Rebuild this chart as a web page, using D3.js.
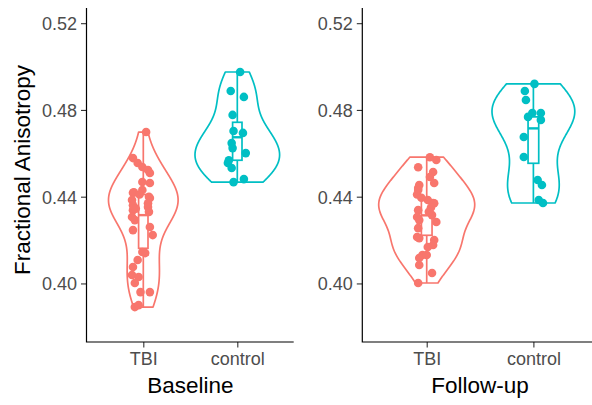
<!DOCTYPE html>
<html>
<head>
<meta charset="utf-8">
<script src="https://cdn.jsdelivr.net/npm/d3@7"></script>
<style>
  html, body { margin: 0; padding: 0; background: #fff; }
  svg { display: block; }
  text { font-family: "Liberation Sans", Arial, Helvetica, sans-serif; }
</style>
</head>
<body>
<svg id="chart" width="592" height="405"></svg>
<script>
// ---------- DATA ----------
const categories = ["TBI", "control"];
const panelTitles = ["Baseline", "Follow-up"];
const yTicks = [0.40, 0.44, 0.48, 0.52];
const yLimits = [0.38, 0.52];
const colors = ["#F8766D", "#00BFC4"];

// Baseline
const baselineTBI = [0.4698,0.4578,0.4555,0.4537,0.4523,0.4509,0.4468,0.4463,0.4431,0.4418,0.4385,0.4394,0.4352,0.4338,0.4306,0.4292,0.4246,0.4260,0.4223,0.4140,0.4145,0.4108,0.4076,0.4039,0.4030,0.4002,0.3960,0.3960,0.3891,0.3900,0.4420,0.4400,0.4360,0.4330,0.4370,0.4410,0.4345];
const baselineTBIJitter = [0.03,-0.11,-0.06,-0.01,0.05,0.07,-0.01,0.07,-0.01,-0.11,-0.12,0.07,0.05,-0.11,-0.12,-0.09,-0.11,0.07,0.10,0.02,-0.01,-0.06,-0.11,-0.12,-0.05,-0.09,-0.03,0.07,-0.09,-0.05,-0.10,0.06,-0.11,0.06,0.05,-0.04,-0.08];
const baselineControl = [0.4975,0.4887,0.4860,0.4777,0.4703,0.4694,0.4647,0.4624,0.4601,0.4568,0.4555,0.4532,0.4467,0.4481];
const baselineControlJitter = [0.03,-0.07,0.07,-0.05,-0.04,0.06,-0.06,-0.05,0.09,-0.09,-0.10,-0.06,-0.04,0.07];

// Follow-up
const followTBI = [0.4582,0.4569,0.4536,0.4514,0.4491,0.4463,0.4454,0.4431,0.4385,0.4371,0.4338,0.4306,0.4292,0.4315,0.4283,0.4255,0.4214,0.4209,0.4200,0.4177,0.4168,0.4131,0.4117,0.4131,0.4085,0.4048,0.4002,0.4410,0.4370,0.4440,0.4350,0.4395,0.4330];
const followTBIJitter = [0.03,0.09,-0.08,0.06,0.03,0.07,-0.07,-0.08,0.01,0.06,-0.08,-0.09,-0.07,0.05,0.09,-0.08,-0.09,-0.07,0.07,0.06,0.01,-0.04,-0.07,0.00,-0.07,0.05,-0.08,-0.09,0.07,-0.08,0.04,-0.05,0.02];
const followControl = [0.4920,0.4887,0.4846,0.4786,0.4786,0.4754,0.4768,0.4675,0.4583,0.4477,0.4454,0.4385,0.4371];
const followControlJitter = [0.01,-0.08,-0.07,-0.01,0.07,0.07,-0.05,-0.09,-0.09,0.04,0.08,0.05,0.09];

// Box statistics: [q1, median, q3]
const baselineTBIBox = [0.4162, 0.4315, 0.4410];
const baselineControlBox = [0.4568, 0.4674, 0.4743];
const followTBIBox = [0.4222, 0.4314, 0.4384];
const followControlBox = [0.4554, 0.4715, 0.4768];

// ---------- LAYOUT ----------
const W = 592, H = 405;
const panelTop = 8, panelBottom = 342;
const panels = [
  { title: panelTitles[0], left: 86.9, right: 293.7, showYTitle: true,
    groups: [
      { values: baselineTBI, jitter: baselineTBIJitter, box: baselineTBIBox },
      { values: baselineControl, jitter: baselineControlJitter, box: baselineControlBox }
    ] },
  { title: panelTitles[1], left: 362.7, right: 597.4, showYTitle: false,
    groups: [
      { values: followTBI, jitter: followTBIJitter, box: followTBIBox },
      { values: followControl, jitter: followControlJitter, box: followControlBox }
    ] }
];

const svg = d3.select("#chart");
svg.append("rect").attr("width", W).attr("height", H).attr("fill", "#fff");

const ySpan = yLimits[1] - yLimits[0];
const y = d3.scaleLinear()
  .domain([yLimits[0] - 0.05 * ySpan, yLimits[1] + 0.05 * ySpan])
  .range([panelBottom, panelTop]);

function bwNrd0(v) {
  const sd = d3.deviation(v);
  const iqr = d3.quantile(v, 0.75) - d3.quantile(v, 0.25);
  let lo = Math.min(sd, iqr / 1.34);
  if (!(lo > 0)) lo = sd || Math.abs(v[0]) || 1;
  return 0.9 * lo * Math.pow(v.length, -0.2);
}
function kde(v) {
  const bw = bwNrd0(v);
  const mn = d3.min(v), mx = d3.max(v);
  const n = 512;
  const out = [];
  for (let i = 0; i < n; i++) {
    const t = mn + (mx - mn) * i / (n - 1);
    let s = 0;
    for (const x of v) {
      const z = (t - x) / bw;
      s += Math.exp(-0.5 * z * z);
    }
    out.push([t, s / (v.length * bw * Math.sqrt(2 * Math.PI))]);
  }
  return out;
}

panels.forEach(p => {
  const x = d3.scaleLinear().domain([0.4, 2.6]).range([p.left, p.right]);
  const unit = x(2) - x(1);
  const g = svg.append("g");

  const dens = p.groups.map(gr => kde(gr.values));
  const maxD = d3.max(dens, d => d3.max(d, e => e[1]));

  // violins
  p.groups.forEach((gr, i) => {
    const cx = x(i + 1);
    const d = dens[i];
    const half = e => e[1] / maxD * 0.45 * unit;
    const pts = d.map(e => [cx + half(e), y(e[0])])
      .concat(d.slice().reverse().map(e => [cx - half(e), y(e[0])]));
    g.append("path")
      .attr("d", d3.line()(pts) + "Z")
      .attr("fill", "#fff")
      .attr("stroke", colors[i])
      .attr("stroke-width", 1.7)
      .attr("stroke-linejoin", "round");
  });

  // boxplots
  p.groups.forEach((gr, i) => {
    const cx = x(i + 1);
    const bw = 0.1 * unit;
    const [q1, med, q3] = gr.box;
    const iqr = q3 - q1;
    const lowW = d3.min(gr.values.filter(v => v >= q1 - 1.5 * iqr));
    const highW = d3.max(gr.values.filter(v => v <= q3 + 1.5 * iqr));
    const bg = g.append("g").attr("stroke", colors[i]).attr("stroke-width", 1.7).attr("fill", "none");
    bg.append("line").attr("x1", cx).attr("x2", cx).attr("y1", y(q3)).attr("y2", y(highW));
    bg.append("line").attr("x1", cx).attr("x2", cx).attr("y1", y(q1)).attr("y2", y(lowW));
    bg.append("rect").attr("x", cx - bw / 2).attr("width", bw)
      .attr("y", y(q3)).attr("height", y(q1) - y(q3)).attr("fill", "#fff");
    bg.append("line").attr("x1", cx - bw / 2).attr("x2", cx + bw / 2)
      .attr("y1", y(med)).attr("y2", y(med)).attr("stroke-width", 2.4);
  });

  // points
  p.groups.forEach((gr, i) => {
    g.append("g").selectAll("circle").data(gr.values).join("circle")
      .attr("cx", (v, j) => x(i + 1 + gr.jitter[j]))
      .attr("cy", v => y(v))
      .attr("r", 4.3)
      .attr("fill", colors[i]);
  });

  // axes
  const yAxis = d3.axisLeft(y).tickValues(yTicks).tickFormat(d3.format(".2f")).tickSize(5.5).tickPadding(4);
  const ya = svg.append("g").attr("transform", `translate(${p.left - 0.4},0)`).call(yAxis);
  const xAxis = d3.axisBottom(x).tickValues([1, 2]).tickFormat(d => categories[d - 1]).tickSize(5.5).tickPadding(4);
  const xa = svg.append("g").attr("transform", `translate(0,${panelBottom})`).call(xAxis);
  [ya, xa].forEach(a => {
    a.select(".domain").remove();
    a.selectAll(".tick line").attr("stroke", "#333").attr("stroke-width", 1.1);
    a.selectAll(".tick text").attr("fill", "#4D4D4D").style("font-size", "18px")
      .style("font-family", '"Liberation Sans", Arial, sans-serif');
  });
  ya.selectAll(".tick text").attr("dy", "0.35em");
  xa.selectAll(".tick text").attr("dy", "0.75em");

  // axis lines
  svg.append("path")
    .attr("d", `M${p.left - 0.4},${panelTop}V${panelBottom}H${p.right}`)
    .attr("fill", "none").attr("stroke", "#000").attr("stroke-width", 1.2);

  // x title
  svg.append("text")
    .attr("x", (p.left + p.right) / 2).attr("y", 393)
    .attr("text-anchor", "middle").attr("fill", "#000")
    .style("font-size", "22.5px").text(p.title);

  if (p.showYTitle) {
    svg.append("text")
      .attr("transform", `translate(30,170) rotate(-90)`)
      .attr("text-anchor", "middle").attr("fill", "#000")
      .style("font-size", "22.5px").text("Fractional Anisotropy");
  }
});
</script>
</body>
</html>
